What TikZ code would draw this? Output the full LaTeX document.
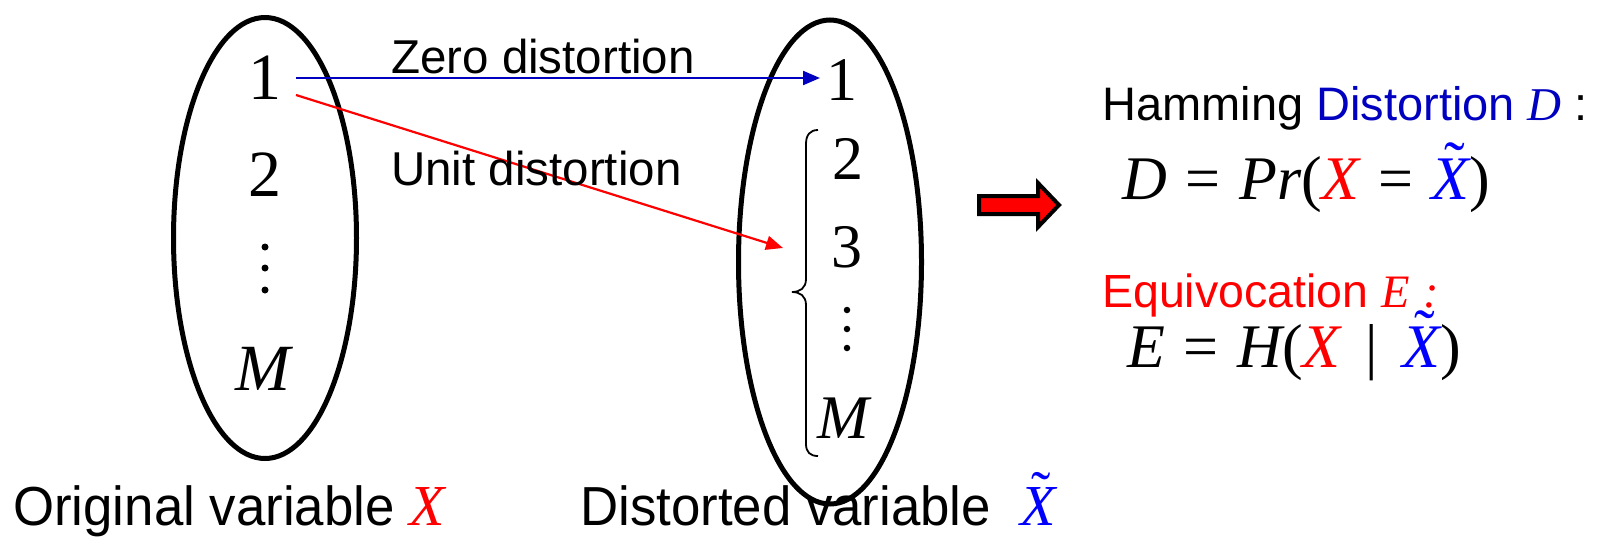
\documentclass[tikz,border=0pt]{standalone}
\usepackage{fontspec}
\setmainfont{Liberation Serif}
\setsansfont{Liberation Sans}
\newfontfamily\narrowsans[FakeStretch=0.96]{Liberation Sans}
\usetikzlibrary{shapes.geometric,arrows.meta}
\definecolor{dblue}{RGB}{0,0,192}
\definecolor{xblue}{RGB}{0,0,255}
\definecolor{xred}{RGB}{255,0,0}
\newcommand\myit[1]{{\rmfamily\itshape #1}}
\newcommand\myxt{\makebox[0pt][l]{\kern0.2em\raisebox{0.24em}{\rmfamily\char"02DC}}\myit{X}}
\newcommand\myeq{\hspace{0.3em}=\hspace{0.3em}}
\begin{document}
\begin{tikzpicture}[x=1pt,y=-1pt,
  ell/.style={ellipse,draw,line width=5,inner sep=0},
  dig/.style={font=\fontsize{66}{70}\selectfont,inner sep=0},
  rdig/.style={font=\fontsize{62}{66}\selectfont,inner sep=0},
  dotnode/.style={circle,fill,inner sep=0,minimum size=7},
  lab/.style={font=\sffamily\fontsize{47.5}{50}\selectfont,inner sep=0,anchor=base west},
  blab/.style={font=\narrowsans\fontsize{55}{58}\selectfont,inner sep=0,anchor=base west},
  frm/.style={font=\rmfamily\fontsize{62}{66}\selectfont,inner sep=0,anchor=base west},
  conn/.style={line width=2.2,-{Triangle[length=17,width=14]}}
]
\useasboundingbox (0,0) rectangle (1599,536);
% ellipses
\node[ell,minimum width=183,minimum height=441] (lell) at (265,238) {};
\node[ell,minimum width=183,minimum height=484] (rell) at (830,262) {};
% left items
\node[dig] (l1) at (265,78) {1};
\node[dig] (l2) at (265,175) {2};
\node[dotnode] (ld1) at (265,247) {};
\node[dotnode] (ld2) at (265,268) {};
\node[dotnode] (ld3) at (265,290) {};
\node[dig] (lM) at (263,369) {\itshape M};
% right items
\node[rdig] (r1) at (842,80) {1};
\node[rdig] (r2) at (848,159) {2};
\node[rdig] (r3) at (847,247) {3};
\node[dotnode,minimum size=6.5] (rd1) at (847,310) {};
\node[dotnode,minimum size=6.5] (rd2) at (847,329) {};
\node[dotnode,minimum size=6.5] (rd3) at (847,348) {};
\node[rdig] (rM) at (843,418) {\itshape M};
% brace
\draw[line width=1.8] (818,130) .. controls (810,130) and (806,135) .. (806,144)
  -- (806,279) .. controls (806,288) and (800,292) .. (792,292)
  .. controls (800,292) and (806,296) .. (806,305)
  -- (806,444) .. controls (806,452) and (810,456) .. (818,456);
% connectors
\coordinate (zs) at (296,78);
\coordinate (ze) at (820,78);
\coordinate (us) at (296,95);
\coordinate (ue) at (783,248);
\draw[conn,dblue] (zs) -- (ze);
\draw[conn,xred] (us) -- (ue);
\node[lab] (zero) at (391,73) {Zero distortion};
\node[lab] (unit) at (391,185) {Unit distortion};
% fat arrow
\draw[line width=4,fill=xred,line join=miter] (979,196) -- (1038,196) -- (1038,183) -- (1059,205)
  -- (1038,227) -- (1038,214) -- (979,214) -- cycle;
% right texts
\node[lab,font=\sffamily\fontsize{47}{50}\selectfont] (ham) at (1102,120)
  {Hamming \textcolor{dblue}{Distortion \myit{D}} :};
\node[frm] (dform) at (1122,199)
  {\myit{D}\myeq\myit{Pr}(\textcolor{xred}{\myit{X}}\myeq\textcolor{xblue}{\myxt})};
\node[lab,font=\sffamily\fontsize{46.5}{50}\selectfont,xred] (equ) at (1102,307)
  {Equivocation \myit{E\hspace{0.3em}:}};
\node[frm] (eform) at (1127,367)
  {\myit{E}\myeq\myit{H}(\textcolor{xred}{\myit{X}}\hspace{0.4em}|\hspace{0.4em}\textcolor{xblue}{\myxt})};
% bottom labels
\node[blab] (orig) at (13,525)
  {Original variable {\rmfamily\itshape\fontsize{58}{60}\selectfont\textcolor{xred}{X}}};
\node[blab] (dist) at (580,525)
  {Distorted variable\ \ {\fontsize{58}{60}\selectfont\textcolor{xblue}{\myxt}}};
\end{tikzpicture}
\end{document}
